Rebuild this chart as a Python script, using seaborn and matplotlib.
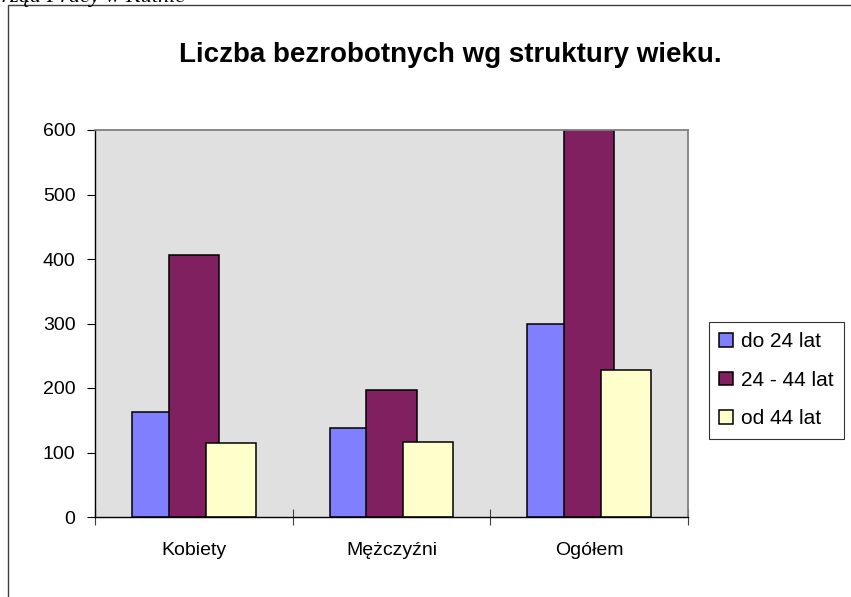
import matplotlib
matplotlib.use("Agg")
import matplotlib.pyplot as plt
import matplotlib.patches as mpatches
import pandas as pd
import seaborn as sns

# dane
kategorie = ["Kobiety", "Mężczyźni", "Ogółem"]
grupy_wieku = ["do 24 lat", "24 - 44 lat", "od 44 lat"]
do_24 = [163, 138, 299]
od_24_do_44 = [406, 197, 600]
od_44 = [114, 117, 228]
kolory = ["#8080FF", "#802060", "#FFFFCC"]

tytul = "Liczba bezrobotnych wg struktury wieku."
zrodlo = "Powiatowy Urząd Pracy w Kutnie"

df = pd.DataFrame({
    "kategoria": kategorie * 3,
    "grupa": [g for g in grupy_wieku for _ in kategorie],
    "liczba": do_24 + od_24_do_44 + od_44,
})

sns.set_style("white")
plt.rcParams["font.family"] = ["Liberation Sans", "DejaVu Sans"]
plt.rcParams["text.color"] = "black"
plt.rcParams["xtick.color"] = "black"
plt.rcParams["ytick.color"] = "black"

fig = plt.figure(figsize=(8.51, 5.97), dpi=100)
ax = fig.add_axes([95 / 851, 1 - 517 / 597, 593 / 851, 387 / 597])

sns.barplot(data=df, x="kategoria", y="liczba", hue="grupa", order=kategorie,
            hue_order=grupy_wieku, palette=kolory, width=0.561, dodge=True,
            edgecolor="black", linewidth=1.1, saturation=1, errorbar=None,
            legend=False, ax=ax)

# słupki nachodzą na siebie jak w Excelu
for p in ax.patches:
    c = p.get_x() + p.get_width() / 2
    p.set_width(0.253)
    p.set_x(c - 0.253 / 2)

ax.set_facecolor("#E0E0E0")
ax.set_xlim(-0.5, 2.5)
ax.set_ylim(0, 600)
ax.set_yticks(range(0, 601, 100))
ax.set_xlabel("")
ax.set_ylabel("")

ax.set_xticks(range(len(kategorie)))
ax.set_xticklabels(kategorie)
ax.set_xticks([-0.5, 0.5, 1.5, 2.5], minor=True)
ax.tick_params(axis="x", which="major", bottom=True, length=0, pad=18, labelsize=14)
ax.tick_params(axis="x", which="minor", bottom=True, direction="inout", length=12,
               width=0.8, color="#404040")
ax.tick_params(axis="y", left=True, direction="out", length=6, width=0.8,
               color="black", pad=8, labelsize=14)

for s in ["left", "bottom"]:
    ax.spines[s].set_color("black")
    ax.spines[s].set_linewidth(1.0)
for s in ["top", "right"]:
    ax.spines[s].set_color("#808080")
    ax.spines[s].set_linewidth(1.3)

fig.text(450 / 851, 1 - 55 / 597, tytul, ha="center", va="center",
         fontsize=20, fontweight="bold")

uchwyty = [mpatches.Patch(facecolor=k, edgecolor="black", linewidth=1.1) for k in kolory]
leg = fig.legend(uchwyty, grupy_wieku, loc="upper left",
                 bbox_to_anchor=(709 / 851, 1 - 322 / 597), fontsize=15,
                 frameon=True, fancybox=False, handlelength=0.63, handleheight=0.63,
                 handletextpad=0.4, labelspacing=0.93, borderpad=0.5, borderaxespad=0)
leg.get_frame().set_edgecolor("black")
leg.get_frame().set_linewidth(0.8)

# ramka wykresu i obcięty podpis u góry
fig.patches.append(mpatches.Rectangle((8 / 851, -0.1), 1.2, 1 - 5 / 597 + 0.1,
                                      transform=fig.transFigure, fill=False,
                                      edgecolor="#404040", linewidth=1.0))
fig.text(185 / 851, 1 - 2 / 597, zrodlo, ha="right", va="baseline",
         fontsize=16, fontstyle="italic", family=["Liberation Serif", "DejaVu Serif"])

fig.savefig("out.png", dpi=100)
